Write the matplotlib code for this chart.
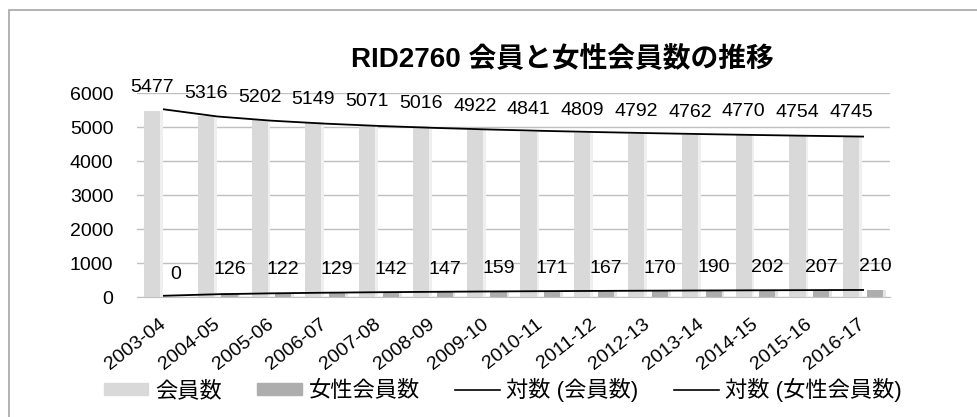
import matplotlib.pyplot as plt
import matplotlib.patches as mpatches
from matplotlib.lines import Line2D
import numpy as np

plt.rcParams['font.family'] = ['Liberation Sans', 'Noto Sans CJK JP']

years = ['2003-04', '2004-05', '2005-06', '2006-07', '2007-08', '2008-09', '2009-10',
         '2010-11', '2011-12', '2012-13', '2013-14', '2014-15', '2015-16', '2016-17']
members = [5477, 5316, 5202, 5149, 5071, 5016, 4922, 4841, 4809, 4792, 4762, 4770, 4754, 4745]
women = [0, 126, 122, 129, 142, 147, 159, 171, 167, 170, 190, 202, 207, 210]

c_mem = '#d9d9d9'
c_wom = '#adadad'

fig = plt.figure(figsize=(9.78, 4.17), dpi=100)
ax = fig.add_axes([137 / 978, 1 - 297 / 417, 753 / 978, 204 / 417])

x = np.arange(len(years))
off = 0.22
w = 0.3

# soft shadow behind the bars (3D look)
ax.bar(x - off + 0.05, members, w, color='#efefef', zorder=1)
ax.bar(x + off + 0.05, women, w, color='#e4e4e4', zorder=1)
ax.bar(x - off, members, w, color=c_mem, zorder=2)
ax.bar(x + off, women, w, color=c_wom, zorder=2)

# logarithmic trend lines, like Excel
t = np.log(x + 1)
pm = np.polyfit(t, members, 1)
pw = np.polyfit(t, women, 1)
ax.plot(x, np.polyval(pm, t), color='black', lw=1.3, zorder=3)
ax.plot(x, np.polyval(pw, t), color='black', lw=1.3, zorder=3)

for i in range(len(years)):
    ax.annotate(str(members[i]), (x[i] - off, members[i]), xytext=(0, 16.5),
                textcoords='offset points', ha='center', va='center', fontsize=14)
    ax.annotate(str(women[i]), (x[i] + off, women[i]), xytext=(0, 16.5),
                textcoords='offset points', ha='center', va='center', fontsize=14)

ax.set_xlim(-0.5, len(years) - 0.5)
ax.set_ylim(0, 6000)
ax.set_yticks(range(0, 6001, 1000))
ax.tick_params(axis='y', length=0, pad=17, labelsize=14)
ax.set_xticks(x)
ax.set_xticklabels(years, rotation=38, ha='right', va='center', rotation_mode='anchor', fontsize=14)
ax.tick_params(axis='x', length=0, pad=18)
ax.grid(axis='y', color='#c0c0c0', lw=1)
ax.set_axisbelow(True)
for s in ['top', 'right', 'left']:
    ax.spines[s].set_visible(False)
ax.spines['bottom'].set_color('#c0c0c0')

fig.text(562 / 978, 1 - 60 / 417, 'RID2760 会員と女性会員数の推移', ha='center', va='center',
         fontsize=20, fontweight='bold')

handles = [mpatches.Patch(color=c_mem), mpatches.Patch(color=c_wom),
           Line2D([], [], color='black', lw=1.2), Line2D([], [], color='black', lw=1.2)]
labels = ['会員数', '女性会員数', '対数 (会員数)', '対数 (女性会員数)']
fig.legend(handles, labels, loc='center', bbox_to_anchor=(503 / 978, 1 - 390 / 417), ncol=4,
           frameon=False, fontsize=16, handlelength=2.0, handleheight=0.45,
           handletextpad=0.3, columnspacing=1.6)

fig.patches.append(mpatches.Rectangle((9 / 978, -0.1), 2, 1 - 10 / 417 + 0.1, fill=False,
                                      edgecolor='#a6a6a6', lw=1.2, transform=fig.transFigure))

fig.savefig('out.png', dpi=100)
